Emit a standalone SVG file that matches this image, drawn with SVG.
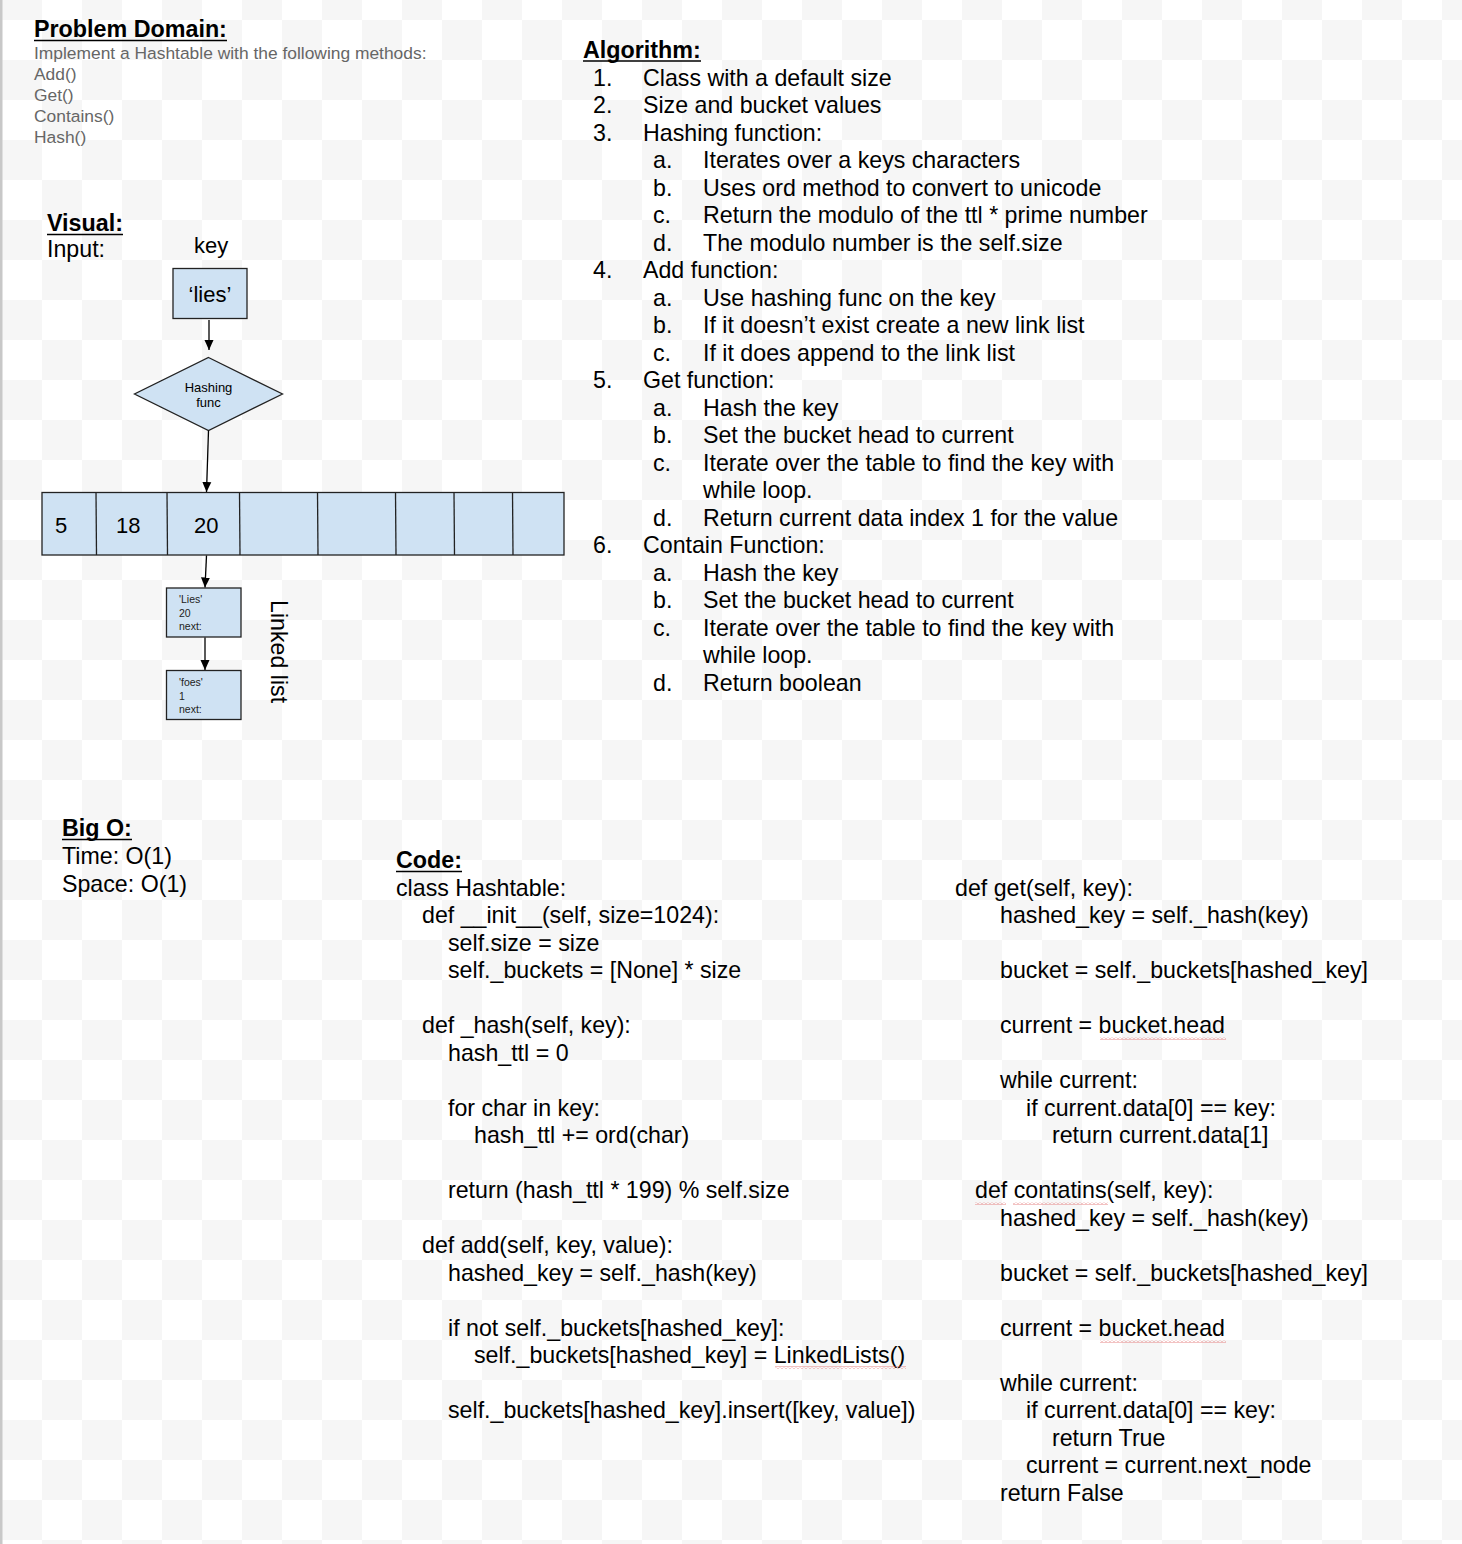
<svg xmlns="http://www.w3.org/2000/svg" width="1462" height="1544" viewBox="0 0 1462 1544">
<defs>
<pattern id="checker" patternUnits="userSpaceOnUse" x="2" y="20" width="80" height="80">
<rect x="0" y="0" width="80" height="80" fill="#ffffff"/>
<rect x="40" y="0" width="40" height="40" fill="#f6f6f6"/>
<rect x="0" y="40" width="40" height="40" fill="#f6f6f6"/>
</pattern>
<pattern id="squiggle" patternUnits="userSpaceOnUse" x="0" y="0" width="4" height="3">
<path d="M0,2.5 L2,0.5 L4,2.5" fill="none" stroke="#e06666" stroke-width="0.8"/>
</pattern>
<marker id="arrow" viewBox="0 0 10 10" refX="10" refY="5" markerWidth="10" markerHeight="10" markerUnits="userSpaceOnUse" orient="auto">
<path d="M0,0.5 L10,5 L0,9.5 Z" fill="#000"/>
</marker>
</defs>
<style>
text{font-family:"Liberation Sans",Arial,sans-serif;fill:#000}
.t{font-size:23.2px}
.h{font-size:23.3px;font-weight:bold}
.g{font-size:17.4px;fill:#666}
.m{font-size:22px}
.s{font-size:13px}
.xs{font-size:10.5px;fill:#222}
.box{fill:#cfe2f3;stroke:#222;stroke-width:1.3}
.ul{stroke:#000;stroke-width:1.7}
.conn{stroke:#000;stroke-width:1.3;fill:none;marker-end:url(#arrow)}
.sq{fill:url(#squiggle)}
</style>
<rect x="0" y="0" width="1462" height="1544" fill="url(#checker)"/>
<rect x="0" y="0" width="2.5" height="1544" fill="#c8c8c8"/>

<g id="problem-domain">
<text class="h" x="34" y="37">Problem Domain:</text>
<line class="ul" x1="34" y1="40.5" x2="227" y2="40.5"/>
<text class="g" x="34" y="59">Implement a Hashtable with the following methods:</text>
<text class="g" x="34" y="80">Add()</text>
<text class="g" x="34" y="101">Get()</text>
<text class="g" x="34" y="122">Contains()</text>
<text class="g" x="34" y="143">Hash()</text>
</g>

<g id="visual-heading">
<text class="h" x="47" y="231">Visual:</text>
<line class="ul" x1="47" y1="234.5" x2="123" y2="234.5"/>
<text class="t" x="47" y="257">Input:</text>
<text class="m" x="194" y="253">key</text>
</g>

<g id="node-key">
<rect class="box" x="173" y="268.5" width="74" height="50"/>
<text class="m" x="210" y="302" text-anchor="middle">‘lies’</text>
</g>

<g id="node-hash">
<polygon class="box" points="208.5,357.5 282.5,394 208.5,430.5 134.5,394"/>
<text class="s" x="208.5" y="391.5" text-anchor="middle">Hashing</text>
<text class="s" x="208.5" y="406.5" text-anchor="middle">func</text>
</g>

<g id="node-array">
<rect class="box" x="42" y="492.5" width="522" height="62.5"/>
<line class="box" x1="96" y1="492.5" x2="96.5" y2="555"/>
<line class="box" x1="167" y1="492.5" x2="167.5" y2="555"/>
<line class="box" x1="239.5" y1="492.5" x2="240" y2="555"/>
<line class="box" x1="317.5" y1="492.5" x2="318" y2="555"/>
<line class="box" x1="395.5" y1="492.5" x2="396" y2="555"/>
<line class="box" x1="454" y1="492.5" x2="454.5" y2="555"/>
<line class="box" x1="512.5" y1="492.5" x2="513" y2="555"/>
<text class="m" x="55" y="533">5</text>
<text class="m" x="116" y="533">18</text>
<text class="m" x="194" y="533">20</text>
</g>

<g id="node-lies">
<rect class="box" x="166.5" y="588" width="74.5" height="49"/>
<text class="xs" x="179" y="603">'Lies'</text>
<text class="xs" x="179" y="616.5">20</text>
<text class="xs" x="179" y="630">next:</text>
</g>

<g id="node-foes">
<rect class="box" x="166.5" y="670.5" width="74.5" height="49"/>
<text class="xs" x="179" y="686">'foes'</text>
<text class="xs" x="179" y="699.5">1</text>
<text class="xs" x="179" y="713">next:</text>
</g>

<g id="label-linked-list">
<text class="t" transform="translate(271,600) rotate(90)">Linked list</text>
</g>

<g id="connectors">
<line class="conn" x1="209" y1="320" x2="209" y2="350"/>
<line class="conn" x1="208.5" y1="430.5" x2="206.5" y2="492"/>
<line class="conn" x1="206.5" y1="555.5" x2="205" y2="587.5"/>
<line class="conn" x1="205" y1="637.5" x2="205" y2="670"/>
</g>

<g id="algorithm">
<text class="h" x="583" y="57.5">Algorithm:</text>
<line class="ul" x1="583" y1="61" x2="701" y2="61"/>
<text class="t" x="593" y="85.5">1.</text><text class="t" x="643" y="85.5">Class with a default size</text>
<text class="t" x="593" y="113">2.</text><text class="t" x="643" y="113">Size and bucket values</text>
<text class="t" x="593" y="140.5">3.</text><text class="t" x="643" y="140.5">Hashing function:</text>
<text class="t" x="653" y="168">a.</text><text class="t" x="703" y="168">Iterates over a keys characters</text>
<text class="t" x="653" y="195.5">b.</text><text class="t" x="703" y="195.5">Uses ord method to convert to unicode</text>
<text class="t" x="653" y="223">c.</text><text class="t" x="703" y="223">Return the modulo of the ttl * prime number</text>
<text class="t" x="653" y="250.5">d.</text><text class="t" x="703" y="250.5">The modulo number is the self.size</text>
<text class="t" x="593" y="278">4.</text><text class="t" x="643" y="278">Add function:</text>
<text class="t" x="653" y="305.5">a.</text><text class="t" x="703" y="305.5">Use hashing func on the key</text>
<text class="t" x="653" y="333">b.</text><text class="t" x="703" y="333">If it doesn’t exist create a new link list</text>
<text class="t" x="653" y="360.5">c.</text><text class="t" x="703" y="360.5">If it does append to the link list</text>
<text class="t" x="593" y="388">5.</text><text class="t" x="643" y="388">Get function:</text>
<text class="t" x="653" y="415.5">a.</text><text class="t" x="703" y="415.5">Hash the key</text>
<text class="t" x="653" y="443">b.</text><text class="t" x="703" y="443">Set the bucket head to current</text>
<text class="t" x="653" y="470.5">c.</text><text class="t" x="703" y="470.5">Iterate over the table to find the key with</text>
<text class="t" x="703" y="498">while loop.</text>
<text class="t" x="653" y="525.5">d.</text><text class="t" x="703" y="525.5">Return current data index 1 for the value</text>
<text class="t" x="593" y="553">6.</text><text class="t" x="643" y="553">Contain Function:</text>
<text class="t" x="653" y="580.5">a.</text><text class="t" x="703" y="580.5">Hash the key</text>
<text class="t" x="653" y="608">b.</text><text class="t" x="703" y="608">Set the bucket head to current</text>
<text class="t" x="653" y="635.5">c.</text><text class="t" x="703" y="635.5">Iterate over the table to find the key with</text>
<text class="t" x="703" y="663">while loop.</text>
<text class="t" x="653" y="690.5">d.</text><text class="t" x="703" y="690.5">Return boolean</text>
</g>

<g id="big-o">
<text class="h" x="62" y="836">Big O:</text>
<line class="ul" x1="62" y1="839.5" x2="132" y2="839.5"/>
<text class="t" x="62" y="864">Time: O(1)</text>
<text class="t" x="62" y="891.5">Space: O(1)</text>
</g>

<g id="code-left">
<text class="h" x="396" y="868">Code:</text>
<line class="ul" x1="396" y1="871.5" x2="462" y2="871.5"/>
<text class="t" x="396" y="895.5">class Hashtable:</text>
<text class="t" x="422" y="923">def __init__(self, size=1024):</text>
<text class="t" x="448" y="950.5">self.size = size</text>
<text class="t" x="448" y="978">self._buckets = [None] * size</text>
<text class="t" x="422" y="1033">def _hash(self, key):</text>
<text class="t" x="448" y="1060.5">hash_ttl = 0</text>
<text class="t" x="448" y="1115.5">for char in key:</text>
<text class="t" x="474" y="1143">hash_ttl += ord(char)</text>
<text class="t" x="448" y="1198">return (hash_ttl * 199) % self.size</text>
<text class="t" x="422" y="1253">def add(self, key, value):</text>
<text class="t" x="448" y="1280.5">hashed_key = self._hash(key)</text>
<text class="t" x="448" y="1335.5">if not self._buckets[hashed_key]:</text>
<text class="t" x="474" y="1363">self._buckets[hashed_key] = LinkedLists()</text>
<text class="t" x="448" y="1418">self._buckets[hashed_key].insert([key, value])</text>
<rect class="sq" x="775" y="1366" width="131" height="3"/>
</g>

<g id="code-right">
<text class="t" x="955" y="895.5">def get(self, key):</text>
<text class="t" x="1000" y="923">hashed_key = self._hash(key)</text>
<text class="t" x="1000" y="978">bucket = self._buckets[hashed_key]</text>
<text class="t" x="1000" y="1033">current = bucket.head</text>
<rect class="sq" x="1100" y="1037" width="126" height="3"/>
<text class="t" x="1000" y="1088">while current:</text>
<text class="t" x="1026" y="1115.5">if current.data[0] == key:</text>
<text class="t" x="1052" y="1143">return current.data[1]</text>
<text class="t" x="975" y="1198">def contatins(self, key):</text>
<rect class="sq" x="975" y="1202" width="31" height="3"/>
<rect class="sq" x="1013" y="1202" width="95" height="3"/>
<text class="t" x="1000" y="1225.5">hashed_key = self._hash(key)</text>
<text class="t" x="1000" y="1280.5">bucket = self._buckets[hashed_key]</text>
<text class="t" x="1000" y="1335.5">current = bucket.head</text>
<rect class="sq" x="1100" y="1340" width="126" height="3"/>
<text class="t" x="1000" y="1390.5">while current:</text>
<text class="t" x="1026" y="1418">if current.data[0] == key:</text>
<text class="t" x="1052" y="1445.5">return True</text>
<text class="t" x="1026" y="1473">current = current.next_node</text>
<text class="t" x="1000" y="1500.5">return False</text>
</g>
</svg>
